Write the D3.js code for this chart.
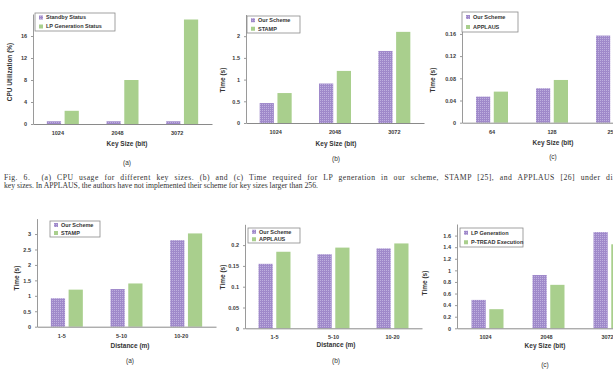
<!DOCTYPE html>
<html>
<head>
<meta charset="utf-8">
<script src="https://cdn.jsdelivr.net/npm/d3@7"></script>
<style>
  body { margin: 0; background: #fff; }
  svg { display: block; }
  .tick text { font-family: "Liberation Sans", Arial, sans-serif; fill: #3a3a3a; }
  .caption { white-space: pre; }
</style>
</head>
<body>
<svg id="fig" width="613" height="369"></svg>
<script>
// ---- data ----
const keySizes = ["1024", "2048", "3072"];
const smallKeySizes = ["64", "128", "256"];
const distances = ["1-5", "5-10", "10-20"];

const cpuStandby = [0.5, 0.5, 0.5];
const cpuLpGeneration = [2.4, 8, 19];
const cpuTicks = [0, 4, 8, 12, 16];

const lpOurScheme = [0.46, 0.91, 1.66];
const lpStamp = [0.69, 1.2, 2.1];
const lpTicks = [0, 0.5, 1, 1.5, 2];

const smallOurScheme = [0.047, 0.062, 0.157];
const smallApplaus = [0.056, 0.077, 0.19];
const smallTicks = [0, 0.04, 0.08, 0.12, 0.16];

const distOurScheme = [0.92, 1.22, 2.8];
const distStamp = [1.2, 1.4, 3.02];
const distTicks = [0, 0.5, 1, 1.5, 2, 2.5, 3];

const distOurScheme2 = [0.155, 0.178, 0.192];
const distApplaus = [0.184, 0.194, 0.204];
const dist2Ticks = [0, 0.05, 0.1, 0.15, 0.2];

const lpGeneration = [0.49, 0.92, 1.66];
const ptreadExecution = [0.33, 0.75, 1.45];
const execTicks = [0, 0.2, 0.4, 0.6, 0.8, 1, 1.2, 1.4, 1.6];

const captionLines = [
  "Fig. 6.  (a) CPU usage for different key sizes. (b) and (c) Time required for LP generation in our scheme, STAMP [25], and APPLAUS [26] under different",
  "key sizes. In APPLAUS, the authors have not implemented their scheme for key sizes larger than 256."
];

const PURPLE = "#9f89ca";
const GREEN = "#a9cf8d";
const FONT = "'Liberation Sans', Arial, sans-serif";

const svg = d3.select("#fig");

// dotted purple fill like the Excel pattern
const pat = svg.append("defs").append("pattern")
  .attr("id", "dots")
  .attr("width", 2).attr("height", 2)
  .attr("patternUnits", "userSpaceOnUse");
pat.append("rect").attr("width", 2).attr("height", 2).attr("fill", PURPLE);
pat.append("rect").attr("width", 1).attr("height", 1).attr("fill", "#bfb0df");

const panels = [
  { cats: keySizes, series: [cpuStandby, cpuLpGeneration], names: ["Standby  Status", "LP Generation Status"],
    ticks: cpuTicks, max: 20, x0: 33, x1: 212, y0: 124, yTop: 14, labelDx: -5,
    xTitle: "Key Size (bit)", xTitleX: 127, xTitleY: 146, yTitle: "CPU Utilization (%)", yTitleX: 10, yTitleY: 72,
    sub: "(a)", subY: 165, legend: { x: 35, y: 13, w: 80, h: 18 } },
  { cats: keySizes, series: [lpOurScheme, lpStamp], names: ["Our Scheme", "STAMP"],
    ticks: lpTicks, max: 2.5, x0: 246, x1: 424, y0: 123, yTop: 14.5, labelDx: 0,
    xTitle: "Key Size (bit)", xTitleX: 336, xTitleY: 146, yTitle: "Time (s)", yTitleX: 223, yTitleY: 80,
    sub: "(b)", subY: 161, legend: { x: 247, y: 16, w: 53, h: 17 } },
  { cats: smallKeySizes, series: [smallOurScheme, smallApplaus], names: ["Our Scheme", "APPLAUS"],
    ticks: smallTicks, max: 0.2, x0: 462, x1: 642, y0: 122.7, yTop: 11.7, labelDx: 0,
    xTitle: "Key Size (bit)", xTitleX: 553, xTitleY: 145, yTitle: "Time (s)", yTitleX: 433, yTitleY: 80,
    sub: "(c)", subY: 159, legend: { x: 462, y: 12, w: 56, h: 20 } },
  { cats: distances, series: [distOurScheme, distStamp], names: ["Our Scheme", "STAMP"],
    ticks: distTicks, max: 3.5, x0: 37, x1: 216, y0: 326.7, yTop: 218.6, labelDx: -5,
    xTitle: "Distance (m)", xTitleX: 130, xTitleY: 348, yTitle: "Time (s)", yTitleX: 17, yTitleY: 278,
    sub: "(a)", subY: 363, legend: { x: 50, y: 221, w: 50, h: 16 } },
  { cats: distances, series: [distOurScheme2, distApplaus], names: ["Our Scheme", "APPLAUS"],
    ticks: dist2Ticks, max: 0.25, x0: 245, x1: 422, y0: 328.3, yTop: 224.3, labelDx: 0,
    xTitle: "Distance (m)", xTitleX: 336, xTitleY: 347, yTitle: "Time (s)", yTitleX: 223, yTitleY: 277,
    sub: "(b)", subY: 363, legend: { x: 248, y: 228, w: 52, h: 15 } },
  { cats: keySizes, series: [lpGeneration, ptreadExecution], names: ["LP Generation", "P-TREAD Execution"],
    ticks: execTicks, max: 1.8, x0: 457, x1: 640, y0: 328.3, yTop: 224, labelDx: -2,
    xTitle: "Key Size (bit)", xTitleX: 545, xTitleY: 348, yTitle: "Time (s)", yTitleX: 425, yTitleY: 283,
    sub: "(c)", subY: 367, legend: { x: 460, y: 228, w: 63, h: 19 } }
];

panels.forEach(drawPanel);

function drawPanel(p) {
  const g = svg.append("g");
  const x = d3.scaleBand().domain(p.cats).range([p.x0, p.x1]);
  const y = d3.scaleLinear().domain([0, p.max]).range([p.y0, p.yTop]);
  const sub = d3.scaleBand().domain([0, 1]).range([-16, 16]).paddingInner(0.2);
  const fills = ["url(#dots)", GREEN];

  // bars
  p.series.forEach((vals, si) => {
    g.append("g").selectAll("rect")
      .data(vals)
      .join("rect")
      .attr("x", (d, i) => x(p.cats[i]) + x.bandwidth() / 2 + sub(si))
      .attr("width", sub.bandwidth())
      .attr("y", d => y(d))
      .attr("height", d => y(0) - y(d))
      .attr("fill", fills[si]);
  });

  // y axis
  const ya = g.append("g")
    .attr("transform", `translate(${p.x0},0)`)
    .call(d3.axisLeft(y).tickValues(p.ticks).tickSize(2).tickSizeOuter(0).tickPadding(4).tickFormat(d => String(d)));
  ya.select(".domain").attr("stroke", "#9a9a9a");
  ya.selectAll(".tick line").attr("stroke", "#9a9a9a");
  ya.selectAll("text").attr("font-size", 5.5).attr("font-weight", "bold");

  // x axis
  const xa = g.append("g")
    .attr("transform", `translate(0,${p.y0})`)
    .call(d3.axisBottom(x).tickSize(0).tickSizeOuter(0).tickPadding(7));
  xa.select(".domain").attr("stroke", "#8a8a8a");
  xa.selectAll("text").attr("font-size", 5.5).attr("font-weight", "bold").attr("dx", p.labelDx);

  // titles
  g.append("text")
    .attr("x", p.xTitleX).attr("y", p.xTitleY)
    .attr("text-anchor", "middle")
    .attr("font-family", FONT).attr("font-size", 6.5).attr("font-weight", "bold").attr("fill", "#333")
    .text(p.xTitle);
  g.append("text")
    .attr("transform", `translate(${p.yTitleX},${p.yTitleY}) rotate(-90)`)
    .attr("text-anchor", "middle").attr("dy", "0.35em")
    .attr("font-family", FONT).attr("font-size", 6.5).attr("font-weight", "bold").attr("fill", "#333")
    .text(p.yTitle);
  g.append("text")
    .attr("x", p.xTitleX).attr("y", p.subY)
    .attr("text-anchor", "middle")
    .attr("font-family", FONT).attr("font-size", 6.5).attr("fill", "#333")
    .text(p.sub);

  // legend
  const L = p.legend;
  const lg = g.append("g");
  lg.append("rect")
    .attr("x", L.x).attr("y", L.y).attr("width", L.w).attr("height", L.h)
    .attr("fill", "#fff").attr("stroke", "#8a8a8a").attr("stroke-width", 0.8);
  const rowH = L.h / 2;
  p.names.forEach((name, i) => {
    const cy = L.y + rowH * (i + 0.5);
    lg.append("rect")
      .attr("x", L.x + 4).attr("y", cy - 2).attr("width", 4).attr("height", 4)
      .attr("fill", fills[i]);
    lg.append("text")
      .attr("x", L.x + 11).attr("y", cy).attr("dy", "0.35em")
      .attr("font-family", FONT).attr("font-size", 5.5).attr("font-weight", "bold").attr("fill", "#333")
      .text(name);
  });
}

// caption: first line is justified so that "under di" reaches the right edge
const cap = svg.append("g").selectAll("text")
  .data(captionLines)
  .join("text")
  .attr("class", "caption")
  .attr("x", 4)
  .attr("y", (d, i) => 179.5 + i * 8)
  .attr("font-family", "'Liberation Serif', 'Times New Roman', serif")
  .attr("font-size", 7.7)
  .attr("fill", "#333")
  .text(d => d);

const line1 = captionLines[0];
const prefix = line1.slice(0, line1.indexOf("under d") + "under di".length);
const probe = svg.append("text")
  .attr("class", "caption")
  .attr("font-family", "'Liberation Serif', 'Times New Roman', serif")
  .attr("font-size", 7.7)
  .attr("letter-spacing", 0.45)
  .text(prefix);
const natural = probe.node().getBBox().width;
probe.remove();
const spaces = (prefix.match(/ /g) || []).length;
cap.filter((d, i) => i === 0)
  .attr("letter-spacing", 0.45)
  .attr("word-spacing", Math.max(0, (613 - 4) - natural) / spaces);
</script>
</body>
</html>
